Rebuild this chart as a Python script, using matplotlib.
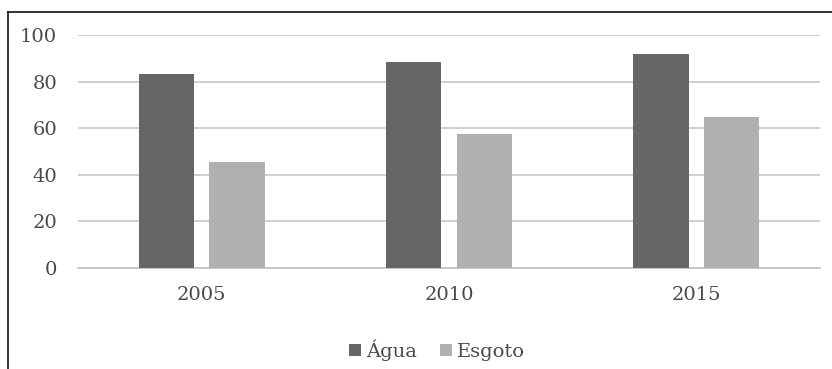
"""Bar chart: Água e Esgoto, 2005-2015."""
import matplotlib.pyplot as plt
from matplotlib.lines import Line2D
import numpy as np

years = ["2005", "2010", "2015"]
agua = [83.3, 88.4, 91.8]
esgoto = [45.5, 57.5, 64.8]
yticks = [0, 20, 40, 60, 80, 100]


def main():
    plt.rcParams["font.family"] = ["DejaVu Serif"]
    text_color = "#4a4a4a"
    fig = plt.figure(figsize=(8.32, 3.69), dpi=100)
    ax = fig.add_axes([78 / 832, 1 - 268 / 369, 742 / 832, 233 / 369])

    x = np.arange(len(years))
    width = 0.223
    off = 0.143
    ax.bar(x - off, agua, width, color="#666666", label="Água", zorder=3)
    ax.bar(x + off, esgoto, width, color="#b0b0b0", label="Esgoto", zorder=3)

    ax.set_xlim(-0.5, len(years) - 0.5)
    ax.set_ylim(0, 100)
    ax.set_yticks(yticks)
    ax.set_xticks(x, labels=years)
    ax.grid(axis="y", color="#cccccc", linewidth=1.3, zorder=0)
    ax.set_axisbelow(True)
    for s in ["top", "right", "left"]:
        ax.spines[s].set_visible(False)
    ax.spines["bottom"].set_color("#c4c4c4")
    ax.spines["bottom"].set_linewidth(1.3)
    ax.tick_params(length=0, labelsize=14, colors=text_color)
    ax.tick_params(axis="y", pad=15)
    ax.tick_params(axis="x", pad=13)

    fig.legend(loc="center", bbox_to_anchor=(437 / 832, 1 - 350 / 369), ncol=2,
               frameon=False, handlelength=0.6, handleheight=0.6,
               handletextpad=0.25, columnspacing=1.2,
               prop={"size": 14}, labelcolor=text_color)

    # Border of the cropped chart frame (top and left only)
    fig.add_artist(Line2D([8 / 832, 8 / 832], [0, 1 - 12 / 369],
                          transform=fig.transFigure, color="#222222", lw=1.3))
    fig.add_artist(Line2D([8 / 832, 1], [1 - 12 / 369, 1 - 12 / 369],
                          transform=fig.transFigure, color="#222222", lw=1.3))

    fig.savefig("out.png", dpi=100)
    plt.close(fig)


if __name__ == "__main__":
    main()
